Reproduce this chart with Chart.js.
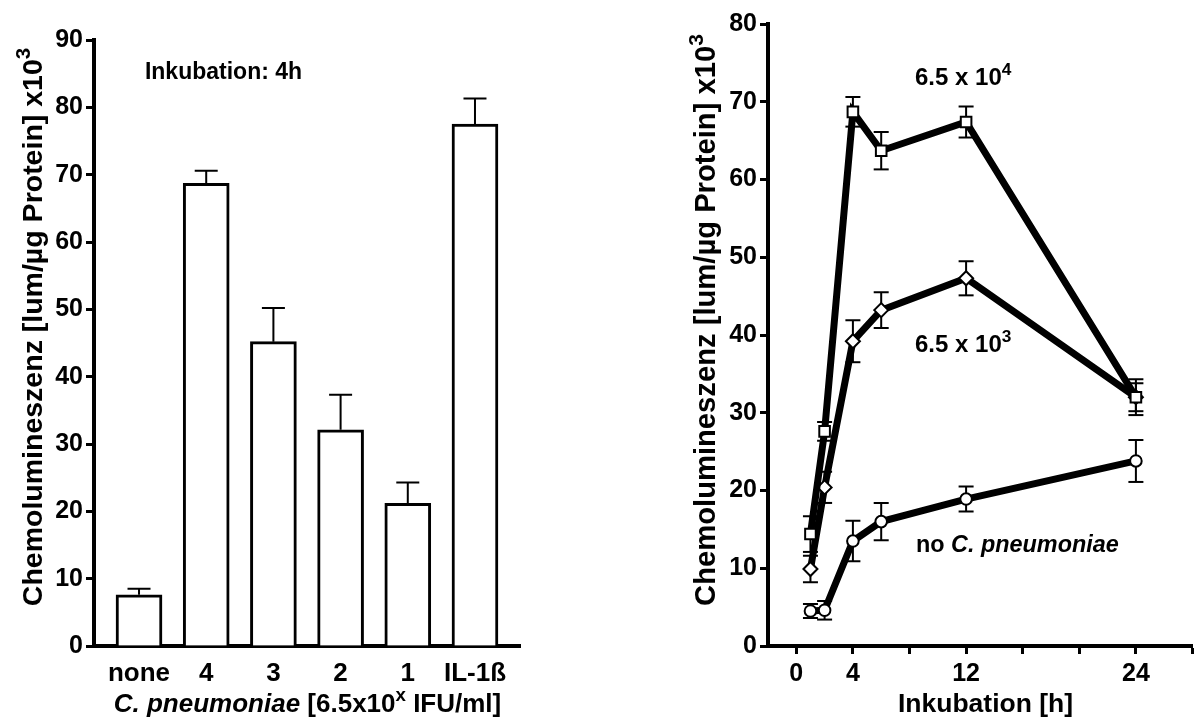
<!DOCTYPE html>
<html>
<head>
<meta charset="utf-8">
<title>Chemolumineszenz</title>
<script src="https://cdn.jsdelivr.net/npm/chart.js@4/dist/chart.umd.min.js"></script>
<style>
  html, body { margin: 0; padding: 0; background: #fff; }
  #wrap { position: relative; width: 1202px; height: 718px; overflow: hidden; }
  canvas { position: absolute; top: 0; }
  #dose { left: 0; }
  #time { left: 600px; }
</style>
</head>
<body>
<div id="wrap">
  <canvas id="dose" width="600" height="718"></canvas>
  <canvas id="time" width="602" height="718"></canvas>
</div>
<script>
// Dose response after 4 h incubation
const doseLabels = ['none', '4', '3', '2', '1', 'IL-1ß'];
const doseMeans  = [7.6, 68.7, 45.2, 32.1, 21.2, 77.5];
const doseErrors = [0.9, 1.9, 5.0, 5.2, 3.1, 3.8];
const doseTicks  = [0, 10, 20, 30, 40, 50, 60, 70, 80, 90];

// Time course for two inoculum sizes and uninfected cells
const hours           = [1, 2, 4, 6, 12, 24];
const highDose        = [14.4, 27.6, 68.7, 63.7, 67.4, 32.0];
const highDoseErr     = [2.3, 1.2, 1.9, 2.4, 2.0, 2.3];
const midDose         = [9.9, 20.4, 39.2, 43.2, 47.3, 32.0];
const midDoseErr      = [1.7, 2.0, 2.7, 2.3, 2.2, 1.8];
const noInfection     = [4.5, 4.6, 13.5, 16.0, 18.9, 23.8];
const noInfectionErr  = [0.9, 1.2, 2.6, 2.4, 1.6, 2.7];
const hourTicks       = [0, 4, 8, 12, 16, 20, 24, 28];
const hourTickLabels  = [0, 4, 12, 24];
const timeValueTicks  = [0, 10, 20, 30, 40, 50, 60, 70, 80];

const FONT = '"Liberation Sans", Arial, Helvetica, sans-serif';
const BLACK = '#000';

// Give an axis a fixed footprint so the plot area lands where intended
function fixedAxis(size) {
  return function (scale) {
    if (scale.isHorizontal()) scale.height = size; else scale.width = size;
    scale.paddingTop = 0; scale.paddingBottom = 0;
    scale.paddingLeft = 0; scale.paddingRight = 0;
  };
}

// Text made of runs (bold, optionally italic or superscript)
function drawRuns(ctx, runs, size, x, y, align, rotated) {
  ctx.save();
  ctx.translate(x, y);
  if (rotated) ctx.rotate(-Math.PI / 2);
  const fontOf = r => (r.italic ? 'italic ' : '') + 'bold ' + (r.sup ? size * 0.72 : size) + 'px ' + FONT;
  const widths = runs.map(r => { ctx.font = fontOf(r); return ctx.measureText(r.t).width; });
  const total = widths.reduce((a, b) => a + b, 0);
  let cx = align === 'center' ? -total / 2 : 0;
  ctx.fillStyle = BLACK;
  ctx.textAlign = 'left';
  ctx.textBaseline = 'alphabetic';
  runs.forEach((r, i) => {
    ctx.font = fontOf(r);
    ctx.fillText(r.t, cx, r.sup ? -size * 0.42 : 0);
    cx += widths[i];
  });
  ctx.restore();
}

const yTitleRuns = [{ t: 'Chemolumineszenz [lum/µg Protein] x10' }, { t: '3', sup: true }];

function errorBar(ctx, x, yTop, yBottom, half) {
  ctx.beginPath();
  ctx.moveTo(x, yBottom); ctx.lineTo(x, yTop);
  ctx.moveTo(x - half, yTop); ctx.lineTo(x + half, yTop);
  ctx.stroke();
}

function tickFont(size) {
  return { family: FONT, size: size, weight: 'bold' };
}

const tickMarks = { drawOnChartArea: false, drawTicks: true, tickLength: 8, tickWidth: 3, tickColor: BLACK, color: BLACK };
const axisLine = { display: true, color: BLACK, width: 4 };

// ---------- Left panel: bars ----------
const doseDecor = {
  id: 'doseDecor',
  afterDatasetsDraw(chart) {
    const { ctx, scales: { x, y } } = chart;
    ctx.save();
    ctx.strokeStyle = BLACK;
    ctx.lineWidth = 2;
    doseMeans.forEach((m, i) => {
      const px = x.getPixelForValue(i);
      errorBar(ctx, px, y.getPixelForValue(m + doseErrors[i]), y.getPixelForValue(m), 11.5);
    });
    ctx.restore();
  },
  afterDraw(chart) {
    const ctx = chart.ctx;
    drawRuns(ctx, yTitleRuns, 28.5, 42, 327, 'center', true);
    drawRuns(ctx, [
      { t: 'C. pneumoniae', italic: true },
      { t: ' [6.5x10' }, { t: 'x', sup: true }, { t: ' IFU/ml]' }
    ], 26, 307.5, 712, 'center', false);
    drawRuns(ctx, [{ t: 'Inkubation: 4h' }], 23, 223.5, 79, 'center', false);
  }
};

new Chart(document.getElementById('dose'), {
  type: 'bar',
  data: {
    datasets: [{
      data: doseMeans.map((v, i) => ({ x: i, y: v })),
      backgroundColor: '#fff',
      borderColor: BLACK,
      borderWidth: 3,
      barThickness: 46
    }]
  },
  options: {
    responsive: false,
    animation: false,
    devicePixelRatio: 1,
    layout: { padding: { left: 0, top: 40, right: 80, bottom: 0 } },
    plugins: { legend: { display: false }, tooltip: { enabled: false } },
    scales: {
      x: {
        type: 'linear',
        offset: false,
        min: -0.67,
        max: 5.67,
        border: axisLine,
        grid: { display: false, offset: false },
        afterBuildTicks: s => { s.ticks = doseLabels.map((_, i) => ({ value: i })); },
        afterFit: fixedAxis(72),
        ticks: {
          color: BLACK, padding: 4, maxRotation: 0, autoSkip: false,
          font: tickFont(26),
          callback: v => doseLabels[v]
        }
      },
      y: {
        min: 0,
        max: 90,
        border: axisLine,
        afterBuildTicks: s => { s.ticks = doseTicks.map(v => ({ value: v })); },
        afterFit: fixedAxis(94),
        grid: tickMarks,
        ticks: { color: BLACK, padding: 3, font: tickFont(25) }
      }
    }
  },
  plugins: [doseDecor]
});

// ---------- Right panel: time course ----------
const timeSeries = [
  { values: highDose, errors: highDoseErr, style: 'rect', radius: 7.5 },
  { values: midDose, errors: midDoseErr, style: 'rectRot', radius: 7 },
  { values: noInfection, errors: noInfectionErr, style: 'circle', radius: 5.8 }
];

const timeDecor = {
  id: 'timeDecor',
  beforeDatasetsDraw(chart) {
    const { ctx, scales: { x, y } } = chart;
    ctx.save();
    ctx.strokeStyle = BLACK;
    ctx.lineWidth = 2;
    timeSeries.forEach(s => {
      s.values.forEach((m, i) => {
        const px = x.getPixelForValue(hours[i]);
        const top = y.getPixelForValue(m + s.errors[i]);
        const bot = y.getPixelForValue(m - s.errors[i]);
        errorBar(ctx, px, top, bot, 7.5);
        ctx.beginPath(); ctx.moveTo(px - 7.5, bot); ctx.lineTo(px + 7.5, bot); ctx.stroke();
      });
    });
    ctx.restore();
  },
  afterDraw(chart) {
    const ctx = chart.ctx;
    drawRuns(ctx, yTitleRuns, 29.2, 115, 320, 'center', true);
    drawRuns(ctx, [{ t: 'Inkubation [h]' }], 26.5, 385.5, 712, 'center', false);
    drawRuns(ctx, [{ t: '6.5 x 10' }, { t: '4', sup: true }], 24, 315, 85, 'left', false);
    drawRuns(ctx, [{ t: '6.5 x 10' }, { t: '3', sup: true }], 24, 315, 352, 'left', false);
    drawRuns(ctx, [{ t: 'no ' }, { t: 'C. pneumoniae', italic: true }], 23.4, 316, 552, 'left', false);
  }
};

new Chart(document.getElementById('time'), {
  type: 'line',
  data: {
    datasets: timeSeries.map(s => ({
      data: s.values.map((v, i) => ({ x: hours[i], y: v })),
      borderColor: BLACK,
      borderWidth: 7,
      tension: 0,
      pointStyle: s.style,
      pointRadius: s.radius,
      pointBackgroundColor: '#fff',
      pointBorderColor: BLACK,
      pointBorderWidth: 2
    }))
  },
  options: {
    responsive: false,
    animation: false,
    devicePixelRatio: 1,
    layout: { padding: { left: 0, top: 24, right: 0, bottom: 0 } },
    plugins: { legend: { display: false }, tooltip: { enabled: false } },
    scales: {
      x: {
        type: 'linear',
        min: -2,
        max: 28,
        border: axisLine,
        afterBuildTicks: s => { s.ticks = hourTicks.map(v => ({ value: v })); },
        afterFit: fixedAxis(72),
        grid: tickMarks,
        ticks: {
          color: BLACK, padding: 5, maxRotation: 0, autoSkip: false,
          font: tickFont(25),
          callback: v => hourTickLabels.includes(v) ? String(v) : ''
        }
      },
      y: {
        min: 0,
        max: 80,
        border: axisLine,
        afterBuildTicks: s => { s.ticks = timeValueTicks.map(v => ({ value: v })); },
        afterFit: fixedAxis(168),
        grid: tickMarks,
        ticks: { color: BLACK, padding: 3, font: tickFont(25) }
      }
    }
  },
  plugins: [timeDecor]
});
</script>
</body>
</html>
